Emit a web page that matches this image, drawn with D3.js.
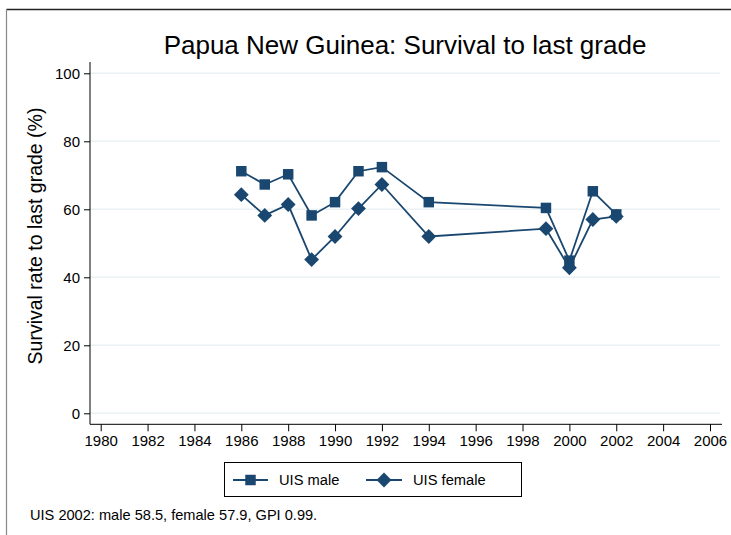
<!DOCTYPE html>
<html><head><meta charset="utf-8">
<script src="https://cdn.jsdelivr.net/npm/d3@7"></script>
<style>body{margin:0;background:#fff}svg{display:block;font-family:"Liberation Sans",Arial,sans-serif}</style>
</head><body><svg id="c" width="731" height="535"></svg>
<script>
const years = [1986,1987,1988,1989,1990,1991,1992,1994,1999,2000,2001,2002];
const maleValues = [71.2,67.3,70.3,58.2,62.1,71.2,72.4,62.1,60.4,44.9,65.3,58.5];
const femaleValues = [64.3,58.2,61.4,45.2,52.0,60.2,67.3,52.0,54.3,42.8,57.0,57.9];
const xTicks = [1980,1982,1984,1986,1988,1990,1992,1994,1996,1998,2000,2002,2004,2006];
const yTicks = [0,20,40,60,80,100];
const seriesNames = ["UIS male","UIS female"];
const title = "Papua New Guinea: Survival to last grade";
const yTitle = "Survival rate to last grade (%)";
const note = "UIS 2002: male 58.5, female 57.9, GPI 0.99.";

const color = "#1a476f";
const svg = d3.select("#c");
const x = d3.scaleLinear().domain([1980,2006]).range([100.7,710]);
const y = d3.scaleLinear().domain([0,100]).range([413.3,73.3]);
const axisY = 424.3, left = 90, right = 722;

// outer frame
svg.append("line").attr("x1",6.5).attr("x2",731).attr("y1",9.5).attr("y2",9.5).attr("stroke","#222").attr("stroke-width",1.6);
svg.append("line").attr("x1",6.5).attr("x2",6.5).attr("y1",9).attr("y2",535).attr("stroke","#888").attr("stroke-width",1.2);

// gridlines
svg.append("g").selectAll("line").data(yTicks).join("line")
  .attr("x1",left).attr("x2",720).attr("y1",d=>y(d)).attr("y2",d=>y(d))
  .attr("stroke","#eaf2f3").attr("stroke-width",1.4);

// y axis
const gy = svg.append("g").attr("transform",`translate(${left},0)`)
  .call(d3.axisLeft(y).tickValues(yTicks).tickSize(6).tickPadding(4));
gy.select(".domain").remove();
gy.append("line").attr("x1",0).attr("x2",0).attr("y1",62).attr("y2",axisY).attr("stroke","#000");
gy.selectAll(".tick line").attr("stroke","#000");
gy.selectAll(".tick text").attr("font-size",15).attr("fill","#000").style("font-family","Liberation Sans, Arial, sans-serif");

// x axis
const gx = svg.append("g").attr("transform",`translate(0,${axisY})`)
  .call(d3.axisBottom(x).tickValues(xTicks).tickFormat(d3.format("d")).tickSize(7).tickPadding(4));
gx.select(".domain").remove();
gx.append("line").attr("x1",left).attr("x2",right).attr("y1",0).attr("y2",0).attr("stroke","#000");
gx.selectAll(".tick line").attr("stroke","#000");
gx.selectAll(".tick text").attr("font-size",15).attr("fill","#000").style("font-family","Liberation Sans, Arial, sans-serif");

// titles
svg.append("text").attr("x",405).attr("y",54).attr("text-anchor","middle").attr("font-size",26).attr("fill","#000").text(title);
svg.append("text").attr("transform","translate(42,236) rotate(-90)").attr("text-anchor","middle").attr("font-size",19.5).attr("fill","#000").text(yTitle);

const line = d3.line().x(d=>x(d[0])).y(d=>y(d[1]));
const male = years.map((yr,i)=>[yr,maleValues[i]]);
const female = years.map((yr,i)=>[yr,femaleValues[i]]);
const sq = d3.symbol().type(d3.symbolSquare).size(110);
const dm = d3.symbol().type(d3.symbolSquare).size(110);

svg.append("path").datum(male).attr("d",line).attr("fill","none").attr("stroke",color).attr("stroke-width",1.8);
svg.append("path").datum(female).attr("d",line).attr("fill","none").attr("stroke",color).attr("stroke-width",1.8);
svg.append("g").selectAll("path").data(male).join("path").attr("d",sq)
  .attr("transform",d=>`translate(${x(d[0])},${y(d[1])})`).attr("fill",color);
svg.append("g").selectAll("path").data(female).join("path").attr("d",dm)
  .attr("transform",d=>`translate(${x(d[0])},${y(d[1])}) rotate(45)`).attr("fill",color);

// legend
const lg = svg.append("g");
lg.append("rect").attr("x",224.5).attr("y",462.5).attr("width",297).attr("height",34).attr("fill","#fff").attr("stroke","#000").attr("stroke-width",1);
const items = [{x0:233,x1:268,sym:sq,rot:0,tx:279},{x0:366,x1:402,sym:dm,rot:45,tx:413}];
items.forEach((it,i)=>{
  const cy = 480;
  lg.append("line").attr("x1",it.x0).attr("x2",it.x1).attr("y1",cy).attr("y2",cy).attr("stroke",color).attr("stroke-width",1.8);
  lg.append("path").attr("d",it.sym).attr("transform",`translate(${(it.x0+it.x1)/2},${cy}) rotate(${it.rot})`).attr("fill",color);
  lg.append("text").attr("x",it.tx).attr("y",cy+5).attr("font-size",14.7).attr("fill","#000").text(seriesNames[i]);
});

svg.append("text").attr("x",30).attr("y",520).attr("font-size",14.6).attr("fill","#000").text(note);
</script></body></html>
